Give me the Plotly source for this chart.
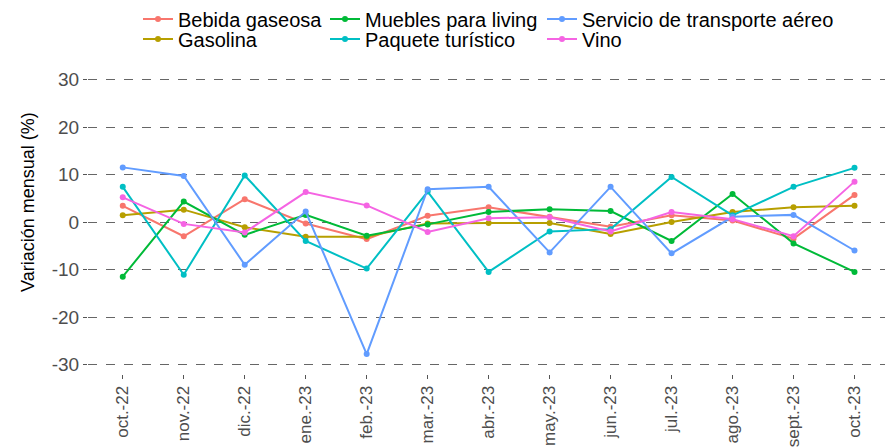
import plotly.graph_objects as go

months = ["oct.-22", "nov.-22", "dic.-22", "ene.-23", "feb.-23", "mar.-23", "abr.-23",
          "may.-23", "jun.-23", "jul.-23", "ago.-23", "sept.-23", "oct.-23"]

bebida_gaseosa = [3.4, -3.0, 4.8, -0.3, -3.6, 1.3, 3.1, 1.1, -1.0, 1.4, 0.3, -3.5, 5.7]
gasolina = [1.4, 2.6, -1.1, -3.1, -3.1, -0.3, -0.2, -0.2, -2.5, 0.0, 2.1, 3.1, 3.4]
muebles_living = [-11.5, 4.3, -2.7, 1.5, -2.9, -0.5, 2.1, 2.7, 2.3, -4.0, 5.9, -4.5, -10.5]
paquete_turistico = [7.4, -11.1, 9.8, -4.0, -9.8, 6.4, -10.5, -2.0, -1.5, 9.5, 1.4, 7.4, 11.4]
transporte_aereo = [11.5, 9.7, -9.0, 2.2, -27.8, 6.9, 7.4, -6.4, 7.4, -6.6, 1.1, 1.5, -6.0]
vino = [5.2, -0.4, -2.2, 6.3, 3.5, -2.1, 0.8, 1.0, -2.0, 2.1, 0.6, -3.0, 8.5]

y_ticks = [-30, -20, -10, 0, 10, 20, 30]
y_tick_labels = ["-30", "-20", "-10", "0", "10", "20", "30"]
y_title = "Variación mensual (%)"

series = [
    ("Bebida gaseosa", bebida_gaseosa, "#F8766D"),
    ("Gasolina", gasolina, "#B79F00"),
    ("Muebles para living", muebles_living, "#00BA38"),
    ("Paquete turístico", paquete_turistico, "#00BFC4"),
    ("Servicio de transporte aéreo", transporte_aereo, "#619CFF"),
    ("Vino", vino, "#F564E3"),
]

# legend slot for each series: (column left px, row center px)
L, T, PW, PH = 88, 70, 797, 304
legend_cols = [138, 138, 325, 325, 542, 542]
legend_rows = [19, 39, 19, 39, 19, 39]

FONT = "Liberation Sans, Arial, sans-serif"
fig = go.Figure()
legend_layout = {}
for i, (name, vals, color) in enumerate(series):
    key = "legend" if i == 0 else f"legend{i + 1}"
    fig.add_trace(go.Scatter(
        x=months, y=vals, name=name, mode="lines+markers",
        line=dict(color=color, width=2), marker=dict(color=color, size=6),
        legend=key,
    ))
    legend_layout[key] = dict(
        orientation="v", xref="paper", yref="paper",
        x=(legend_cols[i] - L) / PW, xanchor="left",
        y=(T + PH - legend_rows[i]) / PH, yanchor="middle",
        font=dict(size=20, color="black", family=FONT),
        bgcolor="rgba(0,0,0,0)", itemwidth=30,
    )

fig.update_layout(
    width=887, height=447,
    margin=dict(l=L, r=887 - L - PW, t=T, b=447 - T - PH, autoexpand=False),
    paper_bgcolor="white", plot_bgcolor="white",
    font=dict(family=FONT),
    showlegend=True,
    **legend_layout,
    xaxis=dict(
        type="category", categoryorder="array", categoryarray=months,
        range=[-0.57, 12.5], showgrid=False, zeroline=False, showline=False,
        tickangle=-90, tickfont=dict(size=17, color="#4D4D4D"),
        ticks="outside", ticklen=4, tickcolor="#555555", automargin=False,
    ),
    yaxis=dict(
        range=[-32, 32], tickvals=y_ticks, ticktext=y_tick_labels,
        showgrid=True, gridcolor="#666666",
        griddash="dash", gridwidth=1, zeroline=False, showline=False,
        tickfont=dict(size=19, color="#4D4D4D"), ticks="outside", ticklen=4,
        tickcolor="#555555", automargin=False,
    ),
    annotations=[dict(
        text=y_title, textangle=-90, showarrow=False,
        xref="paper", yref="paper",
        x=(28 - L) / PW, y=(T + PH - 202) / PH,
        xanchor="center", yanchor="middle",
        font=dict(size=18, color="black", family=FONT),
    )],
)

fig.write_html("out.html", config={"displayModeBar": False},
               post_script="document.body.style.margin='0';")
